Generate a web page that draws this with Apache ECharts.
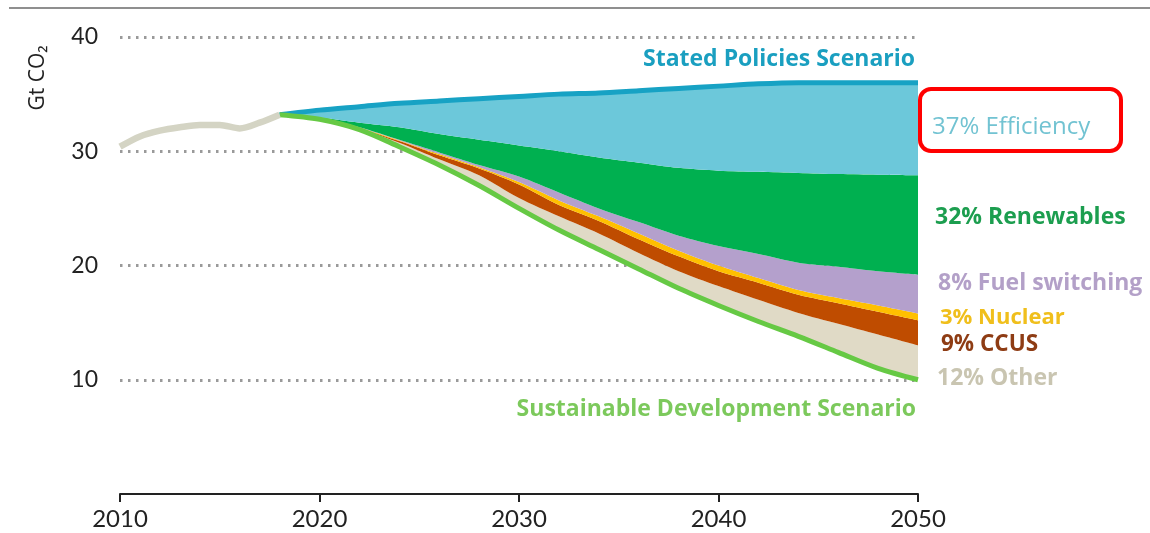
<!DOCTYPE html>
<html>
<head>
<meta charset="utf-8">
<script src="https://cdn.jsdelivr.net/npm/echarts@6/dist/echarts.min.js"></script>
<style>
html,body{margin:0;padding:0;background:#fff;}
#chart{width:1150px;height:533px;}
</style>
</head>
<body>
<div id="chart"></div>
<script>
// ---- data (Gt CO2) ----
var histYears = [2010, 2011, 2012, 2013, 2014, 2015, 2016, 2017, 2018];
var historical = [30.4, 31.3, 31.8, 32.1, 32.3, 32.3, 32.0, 32.5, 33.2];

var years = [2018, 2020, 2022, 2024, 2026, 2028, 2030, 2032, 2034, 2036, 2038, 2040, 2042, 2044, 2046, 2048, 2050];
// Stated Policies Scenario (top line)
var statedPolicies = [33.2, 33.6, 33.9, 34.2, 34.4, 34.6, 34.8, 35.0, 35.1, 35.3, 35.5, 35.7, 35.9, 36.0, 36.0, 36.0, 36.0];
// lower edges of each wedge
var efficiencyLow   = [33.2, 32.95, 32.5, 32.1, 31.5, 31.0, 30.5, 30.0, 29.45, 29.0, 28.55, 28.3, 28.2, 28.1, 28.0, 27.95, 27.9];
var renewablesLow   = [33.2, 32.9, 32.1, 31.0, 29.9, 28.8, 27.8, 26.4, 25.0, 23.8, 22.6, 21.7, 21.0, 20.25, 19.9, 19.5, 19.2];
var fuelSwitchLow   = [33.2, 32.88, 32.05, 30.95, 29.75, 28.6, 27.3, 25.7, 24.3, 22.8, 21.3, 20.0, 18.9, 17.85, 17.15, 16.5, 15.8];
var nuclearLow      = [33.2, 32.86, 32.0, 30.9, 29.65, 28.5, 27.1, 25.3, 23.9, 22.3, 20.8, 19.5, 18.5, 17.45, 16.7, 15.95, 15.2];
var ccusLow         = [33.2, 32.84, 31.95, 30.75, 29.3, 27.9, 25.9, 24.3, 22.8, 21.1, 19.5, 18.2, 17.0, 15.85, 14.9, 13.95, 13.0];
// Sustainable Development Scenario (bottom line)
var sustainableDev  = [33.2, 32.8, 31.9, 30.4, 28.8, 27.0, 25.0, 23.1, 21.4, 19.7, 18.0, 16.5, 15.1, 13.8, 12.4, 11.0, 10.0];

var xTicks = [2010, 2020, 2030, 2040, 2050];
var yTicks = [10, 20, 30, 40];

var wedgeLabels = ['37% Efficiency', '32% Renewables', '8% Fuel switching', '3% Nuclear', '9% CCUS', '12% Other'];
var stepsLabel = 'Stated Policies Scenario';
var sdsLabel = 'Sustainable Development Scenario';

// ---- build ----
// items are [value, year]; encode maps column 1 to x so the value column is the stacked one
function pairs(xs, ys){ return xs.map(function(x,i){ return [ys[i], x]; }); }
function diff(hi, lo){ return years.map(function(y,i){ return [Math.round((hi[i]-lo[i])*1000)/1000, y]; }); }
var ENC = {x: 1, y: 0};

var FONT = '"Open Sans", Lato, "DejaVu Sans", sans-serif';
var TICKFONT = 'Lato, "Open Sans", sans-serif';
var SMOOTH = 0.3;

function band(name, data, color){
  return {
    name: name, type: 'line', stack: 'w', data: data, encode: ENC, smooth: SMOOTH,
    showSymbol: false, symbol: 'none', silent: true,
    lineStyle: {width: 0, opacity: 0},
    areaStyle: {color: color, opacity: 1},
    z: 2
  };
}

var series = [
  {name: 'base', type: 'line', stack: 'w', data: pairs(years, sustainableDev), encode: ENC, smooth: SMOOTH,
   symbol: 'none', lineStyle: {width: 0, opacity: 0}, silent: true, z: 2},
  band('Other', diff(ccusLow, sustainableDev), '#e0dac6'),
  band('CCUS', diff(nuclearLow, ccusLow), '#bf4c00'),
  band('Nuclear', diff(fuelSwitchLow, nuclearLow), '#ffc000'),
  band('Fuel switching', diff(renewablesLow, fuelSwitchLow), '#b4a0cc'),
  band('Renewables', diff(efficiencyLow, renewablesLow), '#00b050'),
  band('Efficiency', diff(statedPolicies, efficiencyLow), '#6cc8da'),
  {name: 'Stated Policies', type: 'line', data: pairs(years, statedPolicies), encode: ENC, smooth: SMOOTH,
   symbol: 'none', lineStyle: {color: '#17a2c4', width: 5}, z: 4},
  {name: 'Sustainable Development', type: 'line', data: pairs(years, sustainableDev), encode: ENC, smooth: SMOOTH,
   symbol: 'none', lineStyle: {color: '#66c944', width: 5}, z: 4},
  {name: 'Historical', type: 'line', data: pairs(histYears, historical), encode: ENC, smooth: SMOOTH,
   symbol: 'none', lineStyle: {color: '#d4d4c4', width: 6.5}, z: 4}
];

var chart = echarts.init(document.getElementById('chart'), null, {renderer: 'canvas'});

function txt(text, x, y, color, size, weight, align){
  return {type: 'text', x: x, y: y, silent: true, z: 10,
    style: {text: text, fill: color, font: (weight||'bold') + ' ' + size + 'px ' + FONT,
      textAlign: align || 'left', textVerticalAlign: 'middle'}};
}

var option = {
  animation: false,
  backgroundColor: '#ffffff',
  grid: {left: 120, right: 232, top: 37, bottom: 39, containLabel: false},
  xAxis: {
    type: 'value', min: xTicks[0], max: xTicks[xTicks.length-1], interval: 10,
    axisLine: {show: true, lineStyle: {color: '#222', width: 2}},
    axisTick: {show: true, length: 8, lineStyle: {color: '#222', width: 2}},
    axisLabel: {color: '#222', fontSize: 24, fontFamily: TICKFONT, margin: 13,
      formatter: function(v){ return xTicks.indexOf(v) >= 0 ? String(v) : ''; }},
    splitLine: {show: false}
  },
  yAxis: {
    type: 'value', min: 0, max: yTicks[yTicks.length-1], interval: 10,
    axisLine: {show: false}, axisTick: {show: false},
    axisLabel: {color: '#222', fontSize: 23, fontFamily: TICKFONT, margin: 22,
      formatter: function(v){ return yTicks.indexOf(v) >= 0 ? String(v) : ''; }},
    splitLine: {show: true, showMinLine: false, lineStyle: {color: '#9a9a9a', width: 3, type: [2.5, 5.5]}}
  },
  series: series,
  graphic: [
    {type: 'line', silent: true, shape: {x1: 9, y1: 8, x2: 1150, y2: 8}, style: {stroke: '#8f8f8f', lineWidth: 2}},
    {type: 'text', x: 38, y: 78, rotation: Math.PI/2, silent: true,
      style: {text: 'Gt CO₂', fill: '#222', font: 'normal 21px ' + FONT, textAlign: 'center', textVerticalAlign: 'middle'}},
    txt(stepsLabel, 915, 59, '#1a9fc0', 23, 'bold', 'right'),
    txt(sdsLabel, 916, 409, '#7cc95c', 23, 'bold', 'right'),
    txt(wedgeLabels[0], 932, 127, '#72c3d2', 24, 'normal'),
    txt(wedgeLabels[1], 935, 217, '#1c9e4f', 23, 'bold'),
    txt(wedgeLabels[2], 938, 283, '#b3a0c8', 23, 'bold'),
    txt(wedgeLabels[3], 940, 318, '#f0bf1c', 22, 'bold'),
    txt(wedgeLabels[4], 941, 345, '#8e3c14', 22.5, 'bold'),
    txt(wedgeLabels[5], 937, 378, '#c9c5b1', 23, 'bold'),
    {type: 'rect', silent: true, z: 11, shape: {x: 920, y: 89, width: 201, height: 62, r: 11},
      style: {fill: 'none', stroke: '#ff0000', lineWidth: 4}}
  ]
};
chart.setOption(option);
</script>
</body>
</html>
